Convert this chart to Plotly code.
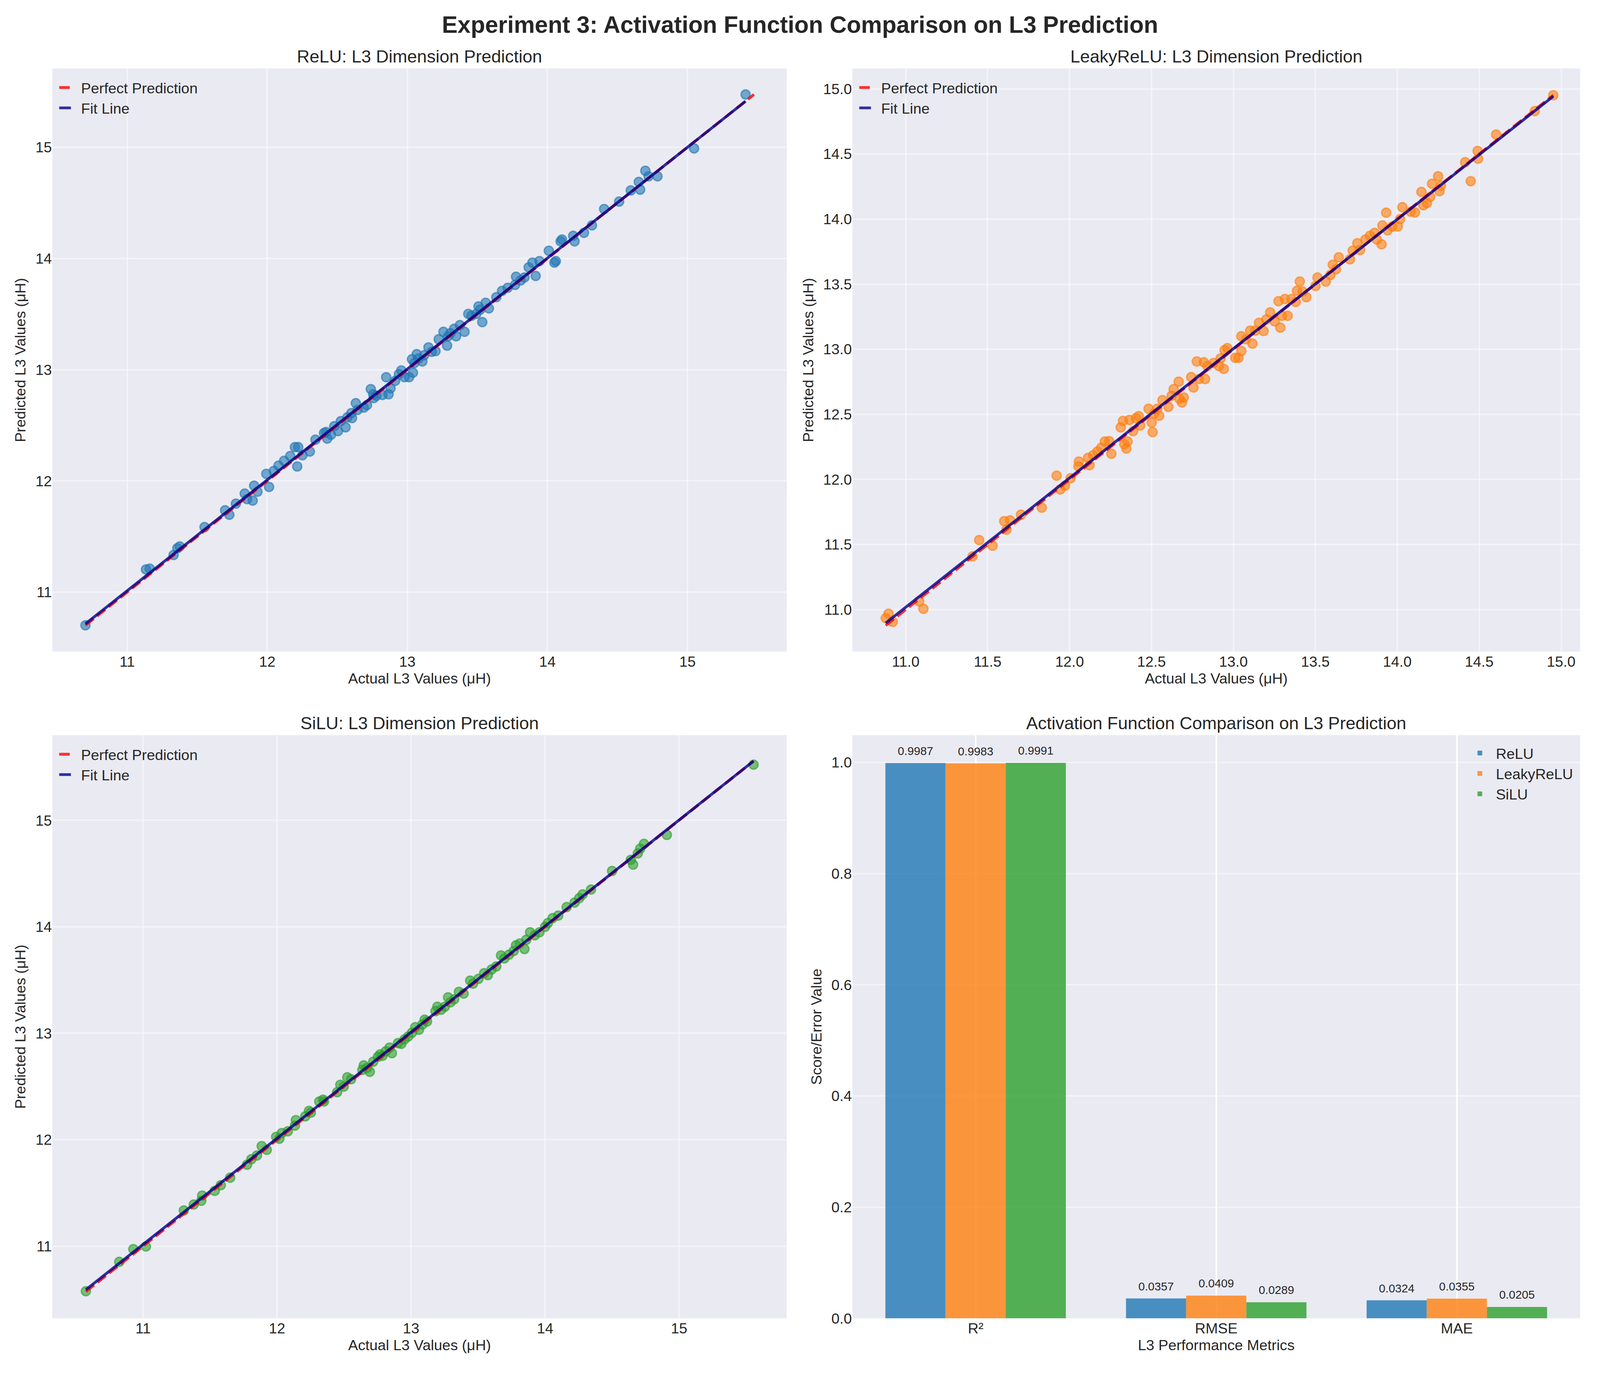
import numpy as np
import plotly.graph_objects as go
from plotly.subplots import make_subplots

# (actual, predicted) pairs
relu_points = [(10.702,10.702),(11.134,11.204),(11.161,11.211),(11.331,11.334),(11.358,11.395),(11.375,11.411),
    (11.552,11.585),(11.699,11.736),(11.729,11.696),(11.776,11.796),(11.839,11.886),(11.856,11.836),(11.896,11.823),
    (11.906,11.957),(11.930,11.903),(11.993,12.064),(12.013,11.946),(12.047,12.090),(12.080,12.137),(12.120,12.181),
    (12.164,12.224),(12.197,12.304),(12.214,12.130),(12.221,12.304),(12.251,12.231),(12.304,12.264),(12.344,12.371),
    (12.405,12.431),(12.420,12.440),(12.428,12.381),(12.455,12.415),(12.478,12.492),(12.505,12.448),(12.525,12.538),
    (12.559,12.482),(12.572,12.572),(12.600,12.610),(12.605,12.565),(12.632,12.699),(12.645,12.639),(12.689,12.659),
    (12.712,12.682),(12.739,12.826),(12.756,12.779),(12.760,12.745),(12.779,12.766),(12.823,12.773),(12.849,12.933),
    (12.866,12.779),(12.880,12.833),(12.913,12.900),(12.940,12.960),(12.957,12.993),(12.980,12.933),(13.013,12.933),
    (13.033,13.094),(13.040,12.973),(13.050,13.060),(13.067,13.140),(13.080,13.100),(13.107,13.074),(13.120,13.130),
    (13.151,13.201),(13.174,13.161),(13.201,13.167),(13.224,13.274),(13.258,13.341),(13.284,13.217),(13.290,13.300),
    (13.308,13.328),(13.334,13.368),(13.348,13.301),(13.375,13.401),(13.408,13.341),(13.435,13.502),(13.458,13.485),
    (13.492,13.502),(13.508,13.569),(13.520,13.540),(13.535,13.428),(13.559,13.602),(13.582,13.552),(13.635,13.652),
    (13.676,13.709),(13.716,13.736),(13.769,13.763),(13.776,13.836),(13.809,13.803),(13.836,13.829),(13.866,13.920),
    (13.893,13.963),(13.916,13.843),(13.943,13.977),(14.010,14.070),(14.050,13.963),(14.060,13.977),(14.094,14.154),
    (14.104,14.171),(14.184,14.204),(14.194,14.154),(14.261,14.231),(14.318,14.298),(14.405,14.445),(14.512,14.512),
    (14.595,14.612),(14.652,14.689),(14.662,14.619),(14.699,14.789),(14.722,14.739),(14.786,14.739),(15.047,14.990),
    (15.415,15.475)]

leaky_points = [(10.878,10.934),(10.895,10.969),(10.921,10.906),(11.082,11.063),(11.108,11.006),(11.408,11.409),
    (11.448,11.534),(11.530,11.491),(11.601,11.680),(11.615,11.614),(11.637,11.686),(11.703,11.729),(11.830,11.783),
    (11.921,12.029),(11.943,11.923),(11.972,11.951),(12.006,12.009),(12.057,12.137),(12.054,12.100),(12.113,12.166),
    (12.122,12.109),(12.144,12.186),(12.170,12.214),(12.193,12.243),(12.215,12.291),(12.241,12.294),(12.255,12.197),
    (12.312,12.400),(12.326,12.449),(12.334,12.271),(12.346,12.237),(12.354,12.291),(12.365,12.457),(12.388,12.371),
    (12.405,12.471),(12.422,12.486),(12.431,12.414),(12.482,12.543),(12.507,12.363),(12.501,12.437),(12.516,12.506),
    (12.535,12.543),(12.547,12.489),(12.567,12.609),(12.603,12.557),(12.623,12.643),(12.635,12.694),(12.666,12.751),
    (12.671,12.620),(12.686,12.591),(12.697,12.629),(12.742,12.786),(12.756,12.706),(12.776,12.906),(12.790,12.771),
    (12.819,12.900),(12.827,12.771),(12.841,12.871),(12.878,12.894),(12.912,12.871),(12.921,12.929),(12.941,12.849),
    (12.946,12.994),(12.963,13.009),(13.011,12.934),(13.031,12.934),(13.048,12.986),(13.048,13.100),(13.076,13.077),
    (13.102,13.143),(13.116,13.043),(13.133,13.143),(13.156,13.203),(13.184,13.140),(13.201,13.229),(13.224,13.283),
    (13.252,13.214),(13.275,13.369),(13.286,13.166),(13.297,13.257),(13.314,13.386),(13.331,13.257),(13.354,13.386),
    (13.380,13.363),(13.388,13.449),(13.405,13.520),(13.422,13.443),(13.445,13.400),(13.501,13.486),(13.513,13.551),
    (13.564,13.520),(13.592,13.571),(13.606,13.649),(13.626,13.614),(13.643,13.706),(13.711,13.691),(13.728,13.757),
    (13.756,13.814),(13.773,13.763),(13.805,13.843),(13.833,13.871),(13.861,13.894),(13.875,13.843),(13.904,13.806),
    (13.909,13.951),(13.932,14.049),(13.941,13.914),(13.969,13.943),(14.003,13.943),(14.017,14.000),(14.031,14.091),
    (14.082,14.057),(14.108,14.051),(14.147,14.209),(14.159,14.106),(14.181,14.123),(14.201,14.171),(14.212,14.271),
    (14.249,14.329),(14.258,14.214),(14.266,14.257),(14.414,14.437),(14.448,14.291),(14.490,14.523),(14.493,14.463),
    (14.603,14.649),(14.839,14.829),(14.952,14.951)]

silu_points = [(10.573,10.577),(10.822,10.853),(10.927,10.972),(11.021,10.997),(11.304,11.335),(11.378,11.391),
    (11.434,11.426),(11.441,11.475),(11.535,11.520),(11.580,11.573),(11.650,11.643),(11.776,11.765),(11.808,11.817),
    (11.850,11.852),(11.885,11.940),(11.923,11.905),(11.993,12.027),(12.017,12.009),(12.035,12.062),(12.080,12.079),
    (12.133,12.132),(12.140,12.184),(12.210,12.219),(12.238,12.271),(12.252,12.254),(12.315,12.359),(12.343,12.376),
    (12.350,12.359),(12.448,12.446),(12.472,12.516),(12.497,12.498),(12.524,12.586),(12.552,12.568),(12.636,12.656),
    (12.647,12.698),(12.671,12.673),(12.692,12.638),(12.717,12.732),(12.752,12.778),(12.769,12.802),(12.787,12.788),
    (12.811,12.830),(12.839,12.865),(12.857,12.813),(12.902,12.907),(12.927,12.900),(12.951,12.942),(12.979,12.970),
    (13.007,13.005),(13.031,13.057),(13.059,13.033),(13.084,13.082),(13.101,13.127),(13.119,13.110),(13.182,13.207),
    (13.196,13.249),(13.224,13.221),(13.252,13.249),(13.276,13.337),(13.294,13.291),(13.322,13.319),(13.357,13.389),
    (13.392,13.372),(13.441,13.494),(13.462,13.466),(13.503,13.511),(13.545,13.564),(13.573,13.546),(13.601,13.599),
    (13.636,13.627),(13.671,13.731),(13.696,13.703),(13.731,13.738),(13.766,13.773),(13.783,13.826),(13.811,13.843),
    (13.846,13.791),(13.860,13.878),(13.888,13.948),(13.923,13.920),(13.958,13.948),(14.000,14.000),(14.021,14.035),
    (14.056,14.081),(14.098,14.105),(14.161,14.185),(14.220,14.227),(14.255,14.269),(14.280,14.304),(14.343,14.350),
    (14.500,14.524),(14.640,14.629),(14.657,14.584),(14.692,14.689),(14.710,14.734),(14.738,14.779),(14.909,14.863),
    (15.556,15.523)]

metrics = ['R²', 'RMSE', 'MAE']
relu_scores = [0.9987, 0.0357, 0.0324]
leaky_scores = [0.9983, 0.0409, 0.0355]
silu_scores = [0.9991, 0.0289, 0.0205]

# figure fills the browser window; sizes below are reference pixels scaled down a bit
REF_W, REF_H = 4769, 3541
K = 0.9


def px(v):
    return v * K


TXT = '#262626'
FONT = 'Liberation Sans, Arial, sans-serif'
GAP = '\u00a0\u00a0'
BAR_W = 0.25

fig = make_subplots(rows=2, cols=2)

# panel boxes in reference pixels (left, right, top, bottom)
boxes = [(147, 2345, 169, 1678), (2541, 4719, 169, 1678),
         (147, 2345, 1894, 3403), (2541, 4719, 1894, 3403)]


def scatter_panel(points, color, row, col, legend):
    actual = np.array([p[0] for p in points])
    pred = np.array([p[1] for p in points])
    rgba = 'rgba(%d,%d,%d,0.6)' % color
    fig.add_trace(go.Scatter(x=actual, y=pred, mode='markers', showlegend=False,
                             marker=dict(size=px(26), color=rgba, line=dict(width=px(4), color=rgba))),
                  row=row, col=col)
    lo = min(actual.min(), pred.min())
    hi = max(actual.max(), pred.max())
    fig.add_trace(go.Scatter(x=[lo, hi], y=[lo, hi], mode='lines', name=GAP + 'Perfect Prediction',
                             legend=legend,
                             line=dict(color='rgba(255,0,0,0.8)', width=px(8),
                                       dash='%dpx,%dpx' % (px(31), px(13)))),
                  row=row, col=col)
    slope, icpt = np.polyfit(actual, pred, 1)
    xs = np.array([actual.min(), actual.max()])
    fig.add_trace(go.Scatter(x=xs, y=slope * xs + icpt, mode='lines', name=GAP + 'Fit Line',
                             legend=legend,
                             line=dict(color='rgba(0,0,139,0.8)', width=px(8))),
                  row=row, col=col)


scatter_panel(relu_points, (31, 119, 180), 1, 1, 'legend')
scatter_panel(leaky_points, (255, 127, 14), 1, 2, 'legend2')
scatter_panel(silu_points, (44, 160, 44), 2, 1, 'legend3')

xpos = np.arange(len(metrics))
for k, (name, scores, c) in enumerate([('ReLU', relu_scores, '31,119,180'),
                                       ('LeakyReLU', leaky_scores, '255,127,14'),
                                       ('SiLU', silu_scores, '44,160,44')]):
    xb = xpos + (k - 1) * BAR_W
    fig.add_trace(go.Bar(x=xb, y=scores, width=BAR_W, name=GAP + name, legend='legend4',
                         marker=dict(color='rgba(%s,0.8)' % c, line=dict(width=0))),
                  row=2, col=2)
    # value labels above each bar
    fig.add_trace(go.Scatter(x=xb, y=scores, mode='markers+text', showlegend=False,
                             text=['%.4f' % v for v in scores], textposition='top center',
                             marker=dict(size=px(22), color='rgba(0,0,0,0)'),
                             textfont=dict(size=px(33), color=TXT), cliponaxis=False),
                  row=2, col=2)

grid_faint = 'rgba(255,255,255,0.45)'
axis_common = dict(showline=False, zeroline=False, ticks='', tickfont=dict(size=px(42), color=TXT),
                   title_font=dict(size=px(42), color=TXT), gridwidth=px(4), gridcolor=grid_faint)

ranges = [([10.465, 15.709], [10.465, 15.709], 1, '.0f'),
          ([10.674, 15.116], [10.677, 15.157], 0.5, '.1f'),
          ([10.322, 15.804], [10.322, 15.80], 1, '.0f')]

for i, (xr, yr, dt, fmt) in enumerate(ranges):
    l, r, t, b = boxes[i]
    sfx = '' if i == 0 else str(i + 1)
    fig.layout['xaxis' + sfx].update(domain=[l / REF_W, r / REF_W], range=xr, dtick=dt, tickformat=fmt,
                                     title=dict(text='Actual L3 Values (μH)', standoff=px(10)), **axis_common)
    fig.layout['yaxis' + sfx].update(domain=[1 - b / REF_H, 1 - t / REF_H], range=yr, dtick=dt, tickformat=fmt,
                                     title=dict(text='Predicted L3 Values (μH)', standoff=px(14)), **axis_common)

l, r, t, b = boxes[3]
fig.layout['xaxis4'].update(domain=[l / REF_W, r / REF_W], range=[-0.5125, 2.5125], tickvals=list(xpos),
                            ticktext=metrics, title=dict(text='L3 Performance Metrics', standoff=px(10)),
                            **dict(axis_common, gridcolor='white'))
fig.layout['yaxis4'].update(domain=[1 - b / REF_H, 1 - t / REF_H], range=[0, 1.049], dtick=0.2, tickformat='.1f',
                            title=dict(text='Score/Error Value', standoff=px(14)), **axis_common)

titles = ['ReLU: L3 Dimension Prediction', 'LeakyReLU: L3 Dimension Prediction',
          'SiLU: L3 Dimension Prediction', 'Activation Function Comparison on L3 Prediction']
annotations = []
for (l, r, t, b), txt in zip(boxes, titles):
    annotations.append(dict(text=txt, x=(l + r) / 2 / REF_W, y=1 - t / REF_H, xref='paper', yref='paper',
                            xanchor='center', yanchor='bottom', yshift=px(4), showarrow=False,
                            font=dict(size=px(50), color=TXT)))

legend_style = dict(font=dict(size=px(42), color=TXT), bgcolor='rgba(0,0,0,0)', borderwidth=0,
                    yanchor='top', xanchor='left', tracegroupgap=0)
legends = {}
for i, key in enumerate(['legend', 'legend2', 'legend3']):
    l, r, t, b = boxes[i]
    legends[key] = dict(legend_style, x=(l + 15) / REF_W, y=1 - (t + 18) / REF_H)
l, r, t, b = boxes[3]
legends['legend4'] = dict(legend_style, x=(r - 15) / REF_W, y=1 - (t + 15) / REF_H, xanchor='right')

fig.update_layout(
    autosize=True,
    margin=dict(l=0, r=0, t=0, b=0),
    paper_bgcolor='white', plot_bgcolor='#eaeaf2',
    font=dict(family=FONT, size=px(42), color=TXT),
    title=dict(text='<b>Experiment 3: Activation Function Comparison on L3 Prediction</b>',
               x=0.5, xanchor='center', y=1 - 55 / REF_H, yanchor='middle',
               font=dict(size=px(67), color=TXT)),
    barmode='overlay',
    annotations=annotations,
    **legends
)

fig.write_html("out.html")
